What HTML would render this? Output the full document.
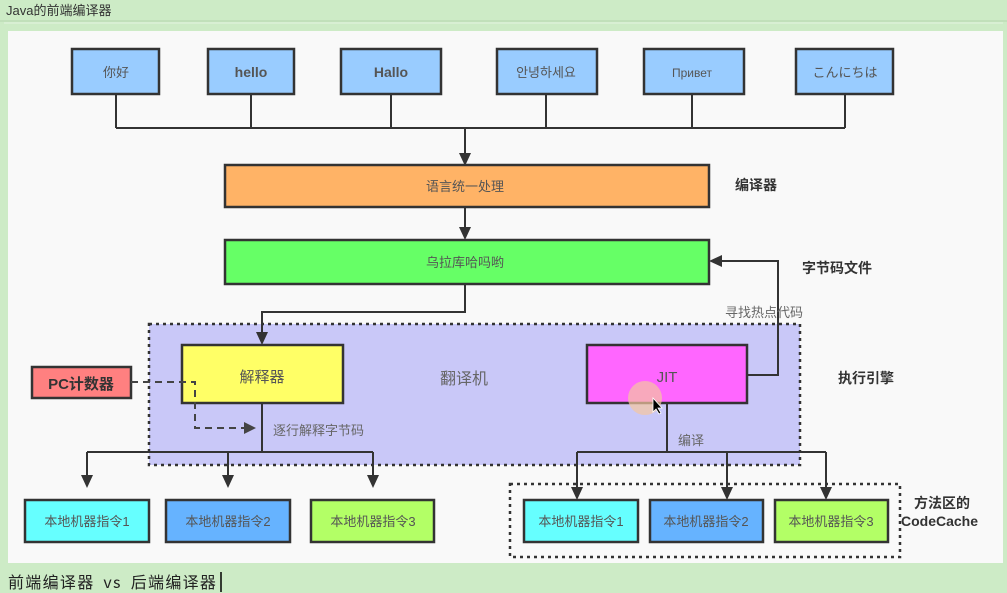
<!DOCTYPE html>
<html><head><meta charset="utf-8"><style>
html,body{margin:0;padding:0;background:#cdebc6;}
svg{display:block;font-family:"Liberation Sans","Noto Sans CJK SC",sans-serif;}
</style></head><body>
<svg width="1007" height="593" viewBox="0 0 1007 593" xmlns="http://www.w3.org/2000/svg">
<rect x="0" y="0" width="1007" height="593" fill="#cdebc6"/>
<line x1="0" y1="21" x2="1007" y2="21" fill="none" stroke="#b5d6ad"/>
<rect x="4" y="22" width="999" height="2" fill="#d8efd3"/>
<text x="6" y="15" font-size="13" fill="#333">Java的前端编译器</text>
<rect x="8" y="31" width="995" height="532" fill="#f9f9f9"/>
<text x="8" y="588" font-size="16" fill="#222" font-family="'Noto Sans CJK SC','Liberation Mono',monospace" letter-spacing="1.3">前端编译器 <tspan dx="4">vs</tspan> <tspan dx="4">后端编译器</tspan></text>
<line x1="221" y1="572" x2="221" y2="592" stroke="#000" stroke-width="1.5"/>

<rect x="149" y="324" width="651" height="141" fill="#c9c8f8" stroke="#333" stroke-width="2.5" stroke-dasharray="3,4"/>
<rect x="510" y="484" width="390" height="73" fill="none" stroke="#333" stroke-width="2.5" stroke-dasharray="3,4"/>

<g stroke="#333" stroke-width="2" fill="none">
<path d="M116 94V128M251 94V128M391 94V128M546 94V128M692 94V128M845 94V128M116 128H845M465 128V158"/>
<path d="M465 207V232"/>
<path d="M465 284V312H262V337"/>
<path d="M747 375H778V261H718"/>
<path d="M262 403V452M87 452H373M87 452V479M228 452V479M373 452V479"/>
<path d="M667 403V452M577 452H826M577 452V491M727 452V491M826 452V491"/>
</g>
<g fill="#333">
<path d="M459 153L471 153L465 166Z"/>
<path d="M459 227L471 227L465 240Z"/>
<path d="M256 332L268 332L262 345Z"/>
<path d="M722 255L722 267L709 261Z"/>
<path d="M81 475L93 475L87 488Z"/><path d="M222 475L234 475L228 488Z"/><path d="M367 475L379 475L373 488Z"/>
<path d="M571 487L583 487L577 500Z"/><path d="M721 487L733 487L727 500Z"/><path d="M820 487L832 487L826 500Z"/>
</g>

<g stroke="#333" stroke-width="2.5">
<rect x="72" y="49" width="87" height="45" fill="#99ccff"/>
<rect x="208" y="49" width="86" height="45" fill="#99ccff"/>
<rect x="341" y="49" width="100" height="45" fill="#99ccff"/>
<rect x="497" y="49" width="100" height="45" fill="#99ccff"/>
<rect x="644" y="49" width="100" height="45" fill="#99ccff"/>
<rect x="796" y="49" width="97" height="45" fill="#99ccff"/>
<rect x="225" y="165" width="484" height="42" fill="#ffb366"/>
<rect x="225" y="240" width="484" height="44" fill="#66ff66"/>
<rect x="182" y="345" width="161" height="58" fill="#ffff66"/>
<rect x="587" y="345" width="160" height="58" fill="#ff66ff"/>
<rect x="32" y="367" width="99" height="31" fill="#ff8080"/>
<rect x="25" y="500" width="124" height="42" fill="#66ffff"/>
<rect x="166" y="500" width="124" height="42" fill="#66b3ff"/>
<rect x="311" y="500" width="123" height="42" fill="#b3ff66"/>
<rect x="524" y="500" width="114" height="42" fill="#66ffff"/>
<rect x="650" y="500" width="113" height="42" fill="#66b3ff"/>
<rect x="775" y="500" width="113" height="42" fill="#b3ff66"/>
</g>
<circle cx="645" cy="398" r="17" fill="#f5c6a0" opacity="0.7"/>
<path d="M653 398L653 412L656 409L659 414L661 413L658 408L662 408Z" fill="#000" stroke="#fff" stroke-width="0.8"/>

<g stroke="#444" stroke-width="2" fill="none" stroke-dasharray="7,5">
<path d="M131 382H195V428H245"/>
</g>
<path d="M244 422L256 428L244 434Z" fill="#444"/>

<g font-size="13" fill="#555" text-anchor="middle">
<text x="116" y="77">你好</text>
<text x="251" y="77" font-weight="bold" font-size="14">hello</text>
<text x="391" y="77" font-weight="bold" font-size="14">Hallo</text>
<text x="546" y="77">안녕하세요</text>
<text x="692" y="77" font-size="12">Привет</text>
<text x="845" y="77">こんにちは</text>
<text x="465" y="191">语言统一处理</text>
<text x="465" y="267">乌拉库哈吗哟</text>
<text x="262" y="382" font-size="15">解释器</text>
<text x="667" y="382" font-size="15">JIT</text>
<text x="87" y="526">本地机器指令1</text>
<text x="228" y="526">本地机器指令2</text>
<text x="373" y="526">本地机器指令3</text>
<text x="581" y="526">本地机器指令1</text>
<text x="706" y="526">本地机器指令2</text>
<text x="831" y="526">本地机器指令3</text>
</g>
<text x="81" y="389" font-size="15" font-weight="bold" fill="#333" text-anchor="middle">PC计数器</text>
<g font-size="13" fill="#666">
<text x="273" y="435">逐行解释字节码</text>
<text x="725" y="317">寻找热点代码</text>
<text x="678" y="445">编译</text>
<text x="440" y="384" font-size="16">翻译机</text>
</g>
<g font-size="14" font-weight="bold" fill="#333">
<text x="735" y="190">编译器</text>
<text x="802" y="273">字节码文件</text>
<text x="838" y="383">执行引擎</text>
<text x="914" y="508">方法区的</text>
<text x="901" y="526">CodeCache</text>
</g>
</svg>
</body></html>
